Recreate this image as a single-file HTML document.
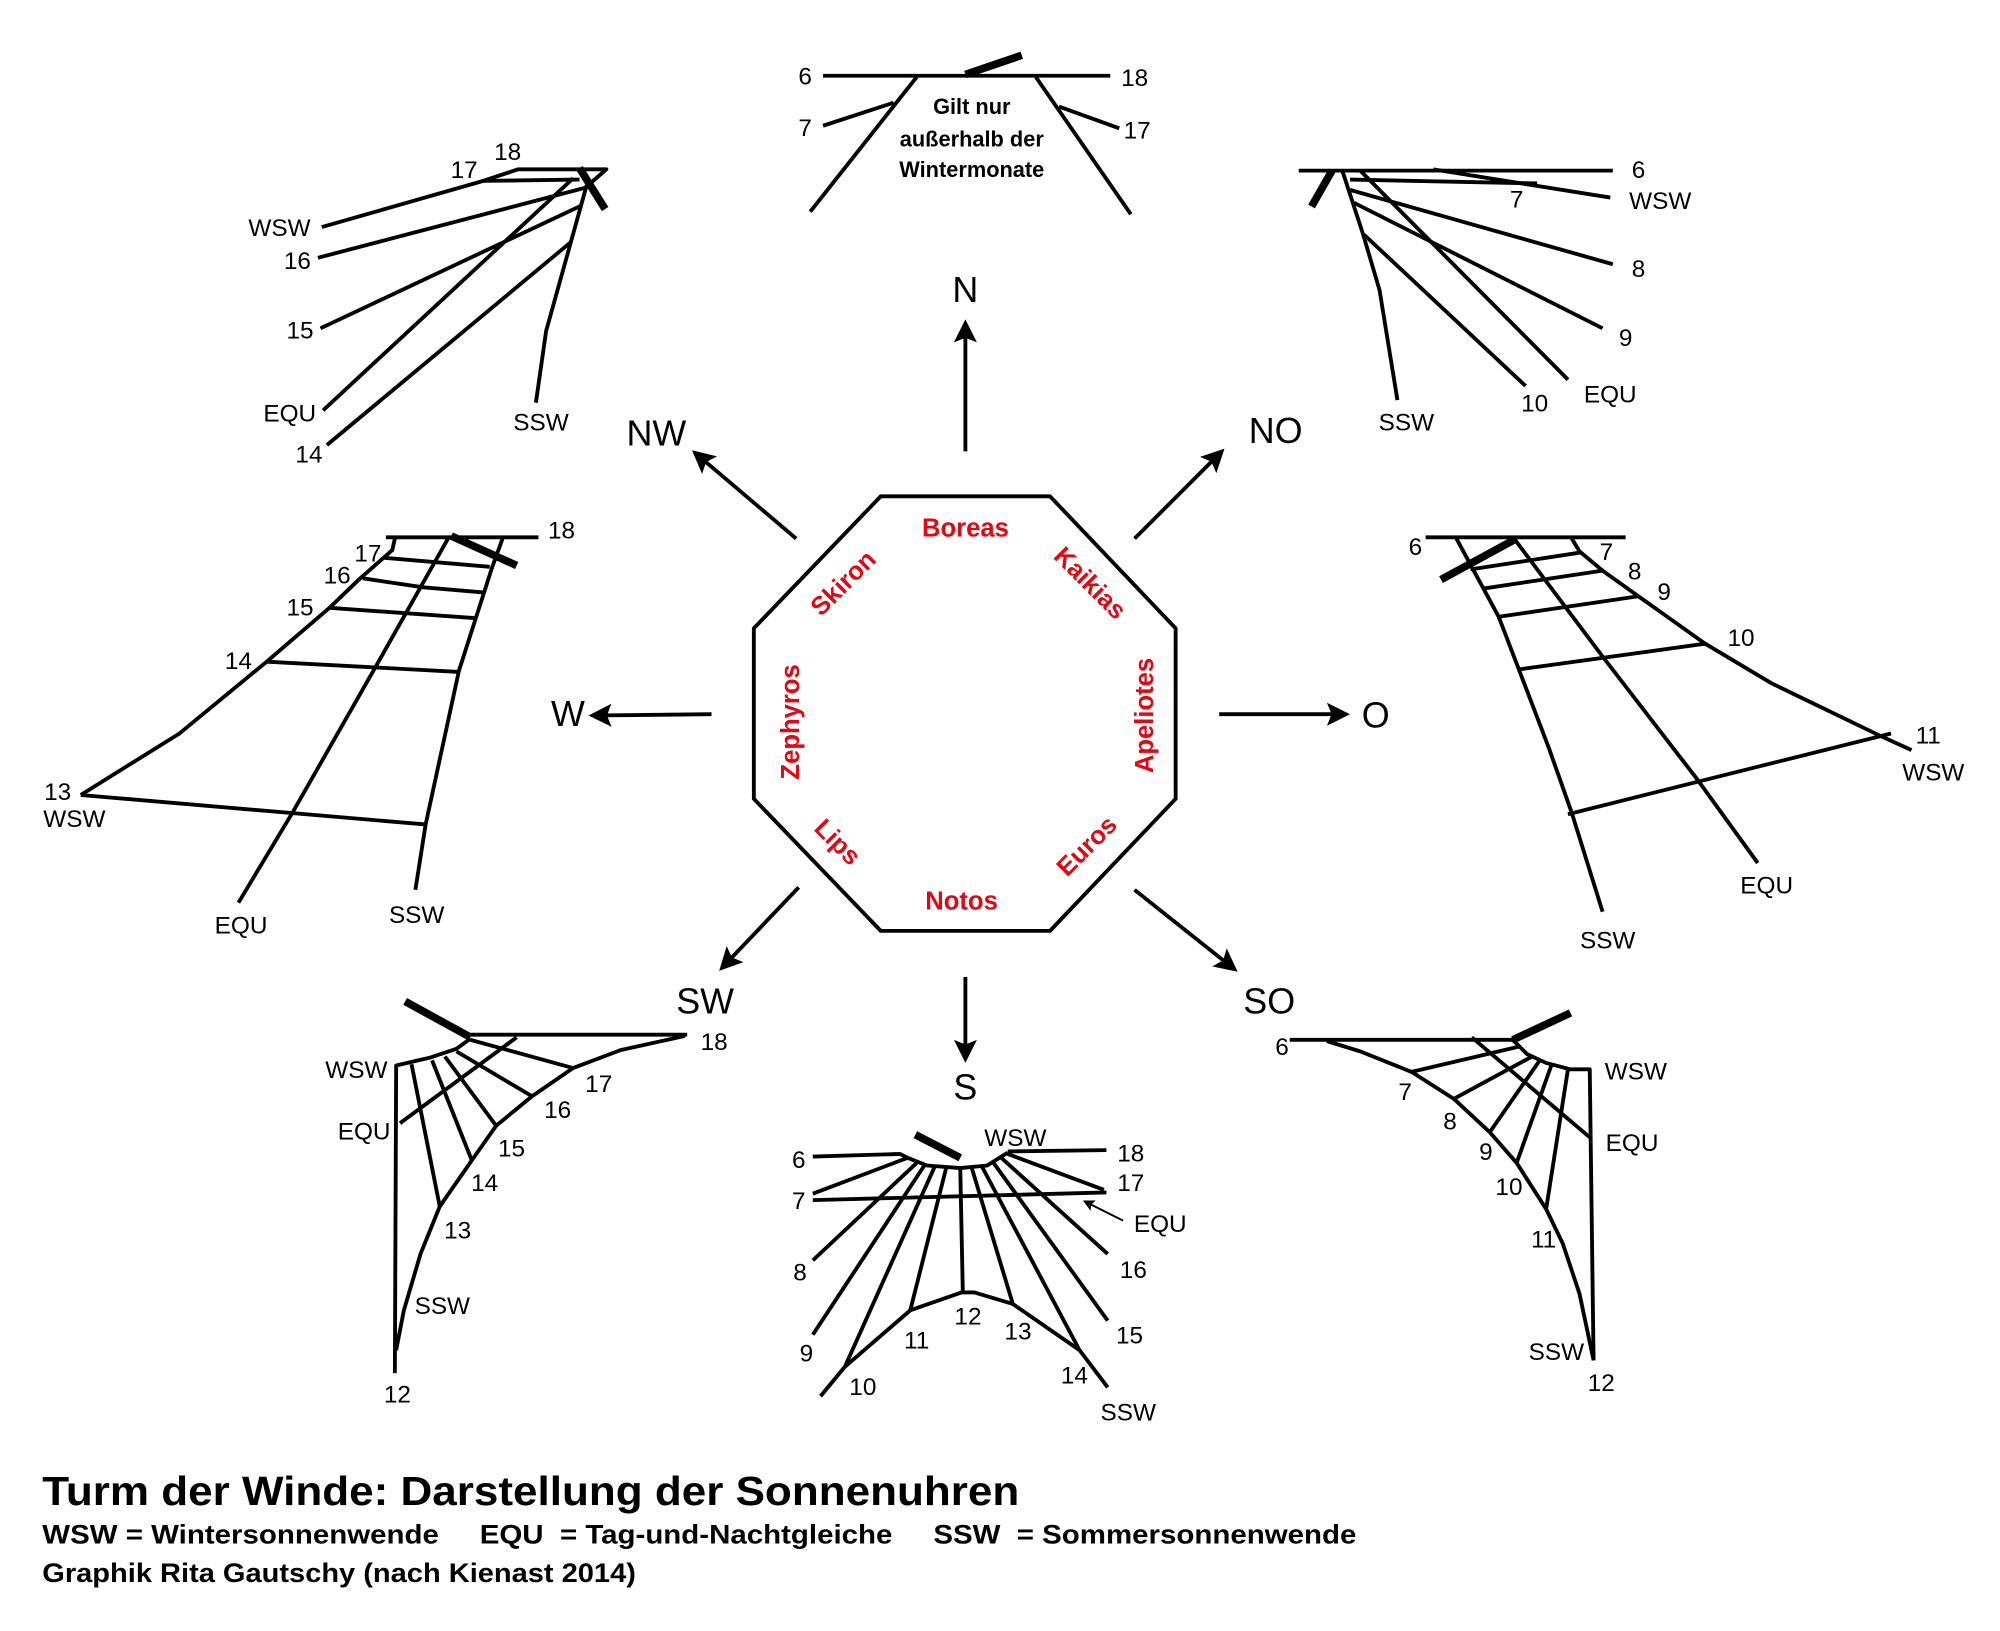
<!DOCTYPE html>
<html><head><meta charset="utf-8"><style>
html,body{margin:0;padding:0;background:#fff}
svg{display:block}
text{font-family:"Liberation Sans",sans-serif;fill:#000}
.l{font-size:19px;text-anchor:middle;dominant-baseline:central}
.r{font-size:20px;font-weight:bold;fill:#e30613;text-anchor:middle;dominant-baseline:central}
.d{font-size:28px;text-anchor:middle;dominant-baseline:central}
</style></head><body>
<svg width="2000" height="1631" viewBox="0 0 1560 1272" xmlns="http://www.w3.org/2000/svg">
<defs><marker id="a" markerWidth="6" markerHeight="6" refX="5" refY="3" orient="auto" markerUnits="strokeWidth"><path d="M0,0 L6,3 L0,6 L1.2,3 z" fill="#000"/></marker></defs>
<g fill="none" stroke="#000" stroke-width="3" stroke-linejoin="round">
<polygon points="687,387 819,387 917,490 917,623 819,726 687,726 588,623 588,490"/>
<g marker-end="url(#a)">
<line x1="753" y1="352" x2="753" y2="252"/>
<line x1="885" y1="420" x2="953" y2="352"/>
<line x1="951" y1="557" x2="1050" y2="557"/>
<line x1="885" y1="694" x2="963" y2="756"/>
<line x1="753" y1="762" x2="753" y2="826"/>
<line x1="623" y1="692" x2="563" y2="755"/>
<line x1="555" y1="557" x2="462" y2="558"/>
<line x1="621" y1="420" x2="542" y2="353"/>
</g>
<line x1="642" y1="59" x2="866" y2="59"/>
<line x1="697" y1="80" x2="642" y2="98"/>
<line x1="715" y1="60" x2="632" y2="165"/>
<line x1="808" y1="60" x2="882" y2="167"/>
<line x1="826" y1="83" x2="873" y2="100"/>
<line x1="753" y1="58" x2="797" y2="43" stroke-width="6"/>
<polyline points="251,177 377,141 404,132 473,132 458,145"/>
<line x1="377" y1="141" x2="452" y2="140"/>
<line x1="248" y1="201" x2="458" y2="146"/>
<line x1="250" y1="256" x2="454" y2="160"/>
<line x1="252" y1="320" x2="447" y2="139"/>
<line x1="255" y1="347" x2="445" y2="189"/>
<polyline points="418,314 426,258 458,143"/>
<line x1="452" y1="131" x2="472" y2="163" stroke-width="6"/>
<line x1="1013" y1="133" x2="1258" y2="133"/>
<line x1="1053" y1="140" x2="1199" y2="143"/>
<line x1="1118" y1="132" x2="1256" y2="154"/>
<line x1="1053" y1="148" x2="1258" y2="206"/>
<line x1="1056" y1="158" x2="1250" y2="256"/>
<line x1="1061" y1="133" x2="1223" y2="296"/>
<line x1="1064" y1="183" x2="1190" y2="301"/>
<polyline points="1047,133 1063,182 1076,226 1090,312"/>
<line x1="1039" y1="133" x2="1023" y2="161" stroke-width="6"/>
<line x1="301" y1="419" x2="420" y2="419"/>
<polyline points="308,420 306,429 281,451 257,474 208,516 140,572 63,620"/>
<polyline points="350,419 293,520 228,634 186,704"/>
<polyline points="392,420 384,442 358,523 332,643 324,694"/>
<line x1="300" y1="435" x2="382" y2="442"/>
<polyline points="283,451 330,458 377,462"/>
<line x1="257" y1="474" x2="370" y2="482"/>
<line x1="208" y1="516" x2="358" y2="524"/>
<line x1="63" y1="620" x2="332" y2="643"/>
<line x1="352" y1="418" x2="403" y2="441" stroke-width="6"/>
<line x1="1112" y1="419" x2="1268" y2="419"/>
<polyline points="1136,420 1169,481 1208,583 1226,634 1250,711"/>
<polyline points="1181,420 1250,512 1324,608 1371,673"/>
<polyline points="1226,420 1232,430 1250,445 1278,465 1330,502 1382,533 1469,575 1491,585"/>
<line x1="1147" y1="444" x2="1232" y2="431"/>
<line x1="1157" y1="459" x2="1250" y2="445"/>
<line x1="1169" y1="481" x2="1278" y2="465"/>
<line x1="1185" y1="522" x2="1330" y2="502"/>
<line x1="1223" y1="635" x2="1475" y2="572"/>
<line x1="1181" y1="421" x2="1124" y2="452" stroke-width="6"/>
<line x1="366" y1="807" x2="536" y2="807"/>
<polyline points="308,1071 309,831 335,825 356,818 367,810"/>
<polyline points="534,808 484,819 447,833 415,855 387,878 368,905 343,941 328,978 315,1022 309,1053"/>
<line x1="367" y1="811" x2="447" y2="833"/>
<line x1="356" y1="820" x2="415" y2="855"/>
<line x1="347" y1="824" x2="387" y2="878"/>
<line x1="337" y1="827" x2="368" y2="905"/>
<line x1="321" y1="830" x2="343" y2="941"/>
<line x1="403" y1="809" x2="312" y2="876"/>
<line x1="316" y1="781" x2="367" y2="809" stroke-width="6"/>
<line x1="1006" y1="811" x2="1180" y2="811"/>
<polyline points="1035,812 1061,820 1101,836 1134,857 1162,883 1183,907 1206,943 1219,970 1232,1009 1243,1061"/>
<polyline points="1180,811 1191,822 1206,829 1225,834 1240,834 1243,1061"/>
<line x1="1101" y1="836" x2="1186" y2="816"/>
<line x1="1134" y1="857" x2="1195" y2="824"/>
<line x1="1162" y1="883" x2="1201" y2="827"/>
<line x1="1183" y1="907" x2="1210" y2="831"/>
<line x1="1206" y1="943" x2="1223" y2="834"/>
<line x1="1148" y1="809" x2="1240" y2="887"/>
<line x1="1180" y1="811" x2="1225" y2="790" stroke-width="6"/>
<polyline points="634,902 702,900 708,903"/>
<line x1="634" y1="931" x2="708" y2="903"/>
<line x1="634" y1="936" x2="863" y2="930"/>
<polyline points="708,903 723,909 749,911 770,909 786,899"/>
<line x1="786" y1="898" x2="863" y2="897"/>
<line x1="786" y1="900" x2="861" y2="928"/>
<line x1="715" y1="907" x2="634" y2="983"/>
<line x1="721" y1="909" x2="634" y2="1041"/>
<polyline points="640,1089 659,1066 710,1022 750,1008 760,1008 790,1017 842,1053 864,1082"/>
<line x1="729" y1="910" x2="659" y2="1066"/>
<line x1="738" y1="911" x2="710" y2="1022"/>
<line x1="749" y1="911" x2="751" y2="1008"/>
<line x1="758" y1="911" x2="790" y2="1017"/>
<line x1="766" y1="910" x2="842" y2="1053"/>
<line x1="775" y1="907" x2="864" y2="1030"/>
<line x1="781" y1="903" x2="864" y2="978"/>
<line x1="714" y1="885" x2="749" y2="903" stroke-width="6"/>
<line x1="876" y1="952" x2="846" y2="937" stroke-width="1.5" marker-end="url(#a)"/>
</g>
<text class="d" x="753" y="226">N</text>
<text class="d" x="995" y="336">NO</text>
<text class="d" x="1073" y="558">O</text>
<text class="d" x="990" y="781">SO</text>
<text class="d" x="753" y="848">S</text>
<text class="d" x="550" y="781">SW</text>
<text class="d" x="443" y="557">W</text>
<text class="d" x="512" y="338">NW</text>
<text class="r" x="753" y="412">Boreas</text>
<text class="r" transform="translate(850,455) rotate(45)">Kaikias</text>
<text class="r" transform="translate(893,558) rotate(-90)">Apeliotes</text>
<text class="r" transform="translate(848,660) rotate(-45)">Euros</text>
<text class="r" x="750" y="703">Notos</text>
<text class="r" transform="translate(653,657) rotate(45)">Lips</text>
<text class="r" transform="translate(617,563) rotate(-90)">Zephyros</text>
<text class="r" transform="translate(658,455) rotate(-45)">Skiron</text>
<text class="l" x="628" y="60">6</text><text class="l" x="628" y="100">7</text>
<text class="l" x="885" y="61">18</text><text class="l" x="887" y="102">17</text>
<g style="font-size:17px;font-weight:bold" text-anchor="middle"><text x="758" y="89">Gilt nur</text><text x="758" y="114">außerhalb der</text><text x="758" y="138">Wintermonate</text></g>
<text class="l" x="396" y="119">18</text><text class="l" x="362" y="133">17</text>
<text class="l" x="218" y="178">WSW</text><text class="l" x="232" y="204">16</text>
<text class="l" x="234" y="258">15</text><text class="l" x="226" y="323">EQU</text>
<text class="l" x="241" y="355">14</text><text class="l" x="422" y="330">SSW</text>
<text class="l" x="1278" y="133">6</text><text class="l" x="1183" y="156">7</text>
<text class="l" x="1295" y="157">WSW</text><text class="l" x="1278" y="210">8</text>
<text class="l" x="1268" y="264">9</text><text class="l" x="1197" y="315">10</text>
<text class="l" x="1256" y="308">EQU</text><text class="l" x="1097" y="330">SSW</text>
<text class="l" x="438" y="414">18</text><text class="l" x="287" y="432">17</text>
<text class="l" x="263" y="449">16</text><text class="l" x="234" y="474">15</text>
<text class="l" x="186" y="516">14</text><text class="l" x="45" y="618">13</text>
<text class="l" x="58" y="639">WSW</text><text class="l" x="188" y="722">EQU</text>
<text class="l" x="325" y="714">SSW</text>
<text class="l" x="1104" y="427">6</text><text class="l" x="1253" y="431">7</text>
<text class="l" x="1275" y="446">8</text><text class="l" x="1298" y="462">9</text>
<text class="l" x="1358" y="498">10</text><text class="l" x="1504" y="574">11</text>
<text class="l" x="1508" y="603">WSW</text><text class="l" x="1378" y="691">EQU</text>
<text class="l" x="1254" y="734">SSW</text>
<text class="l" x="557" y="813">18</text><text class="l" x="278" y="835">WSW</text>
<text class="l" x="284" y="883">EQU</text><text class="l" x="467" y="846">17</text>
<text class="l" x="435" y="866">16</text><text class="l" x="399" y="896">15</text>
<text class="l" x="378" y="923">14</text><text class="l" x="357" y="960">13</text>
<text class="l" x="345" y="1019">SSW</text><text class="l" x="310" y="1088">12</text>
<text class="l" x="1000" y="817">6</text><text class="l" x="1096" y="852">7</text>
<text class="l" x="1131" y="875">8</text><text class="l" x="1159" y="899">9</text>
<text class="l" x="1177" y="926">10</text><text class="l" x="1204" y="967">11</text>
<text class="l" x="1276" y="836">WSW</text><text class="l" x="1273" y="892">EQU</text>
<text class="l" x="1214" y="1055">SSW</text><text class="l" x="1249" y="1079">12</text>
<text class="l" x="623" y="905">6</text><text class="l" x="623" y="937">7</text>
<text class="l" x="624" y="993">8</text><text class="l" x="629" y="1056">9</text>
<text class="l" x="673" y="1082">10</text><text class="l" x="715" y="1046">11</text>
<text class="l" x="755" y="1027">12</text><text class="l" x="794" y="1039">13</text>
<text class="l" x="838" y="1073">14</text><text class="l" x="880" y="1102">SSW</text>
<text class="l" x="881" y="1042">15</text><text class="l" x="884" y="991">16</text>
<text class="l" x="905" y="955">EQU</text><text class="l" x="882" y="923">17</text>
<text class="l" x="882" y="900">18</text><text class="l" x="792" y="888">WSW</text>
<text x="33" y="1174" style="font-size:32px;font-weight:bold" textLength="762" lengthAdjust="spacingAndGlyphs">Turm der Winde: Darstellung der Sonnenuhren</text>
<text x="33" y="1204" style="font-size:21px;font-weight:bold" textLength="1025" lengthAdjust="spacingAndGlyphs" xml:space="preserve">WSW = Wintersonnenwende     EQU  = Tag-und-Nachtgleiche     SSW  = Sommersonnenwende</text>
<text x="33" y="1234" style="font-size:21px;font-weight:bold" textLength="463" lengthAdjust="spacingAndGlyphs">Graphik Rita Gautschy (nach Kienast 2014)</text>
</svg>
</body></html>
